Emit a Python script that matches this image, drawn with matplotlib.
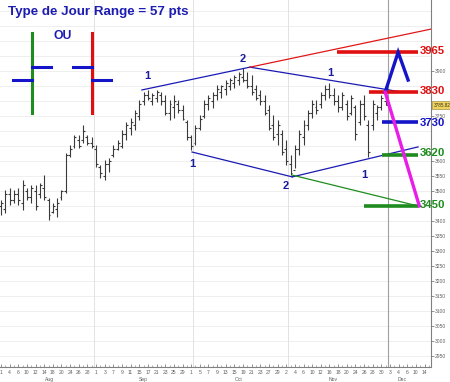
import matplotlib
matplotlib.use("Agg")
import matplotlib.pyplot as plt
import numpy as np

plt.rcParams['font.family'] = ['Liberation Sans', 'DejaVu Sans']

# ---------------- data ----------------
highs = [3470,3503,3510,3503,3510,3537,3510,3520,3520,3527,3553,3477,3460,3477,3503,3627,3653,3687,3687,3720,
         3687,3680,3653,3587,3603,3610,3653,3670,3703,3730,3743,3770,3803,3830,3837,3827,3837,3830,3820,3803,
         3820,3803,3787,3737,3687,3720,3753,3803,3820,3830,3853,3853,3870,3877,3887,3897,3910,3897,3887,3853,
         3837,3820,3787,3753,3737,3703,3670,3620,3653,3703,3737,3770,3803,3803,3830,3853,3860,3843,3820,3830,
         3803,3820,3787,3803,3820,3737,3803,3787,3820,3837]
lows = [3420,3427,3453,3460,3453,3437,3470,3460,3437,3477,3470,3403,3427,3413,3470,3493,3613,3643,3643,3660,
        3653,3643,3580,3543,3537,3563,3613,3637,3643,3670,3687,3703,3737,3787,3803,3787,3797,3787,3753,3737,
        3743,3760,3737,3670,3637,3653,3703,3743,3770,3777,3803,3810,3820,3837,3843,3853,3863,3843,3820,3803,
        3787,3753,3703,3670,3653,3620,3587,3553,3577,3620,3653,3703,3743,3757,3777,3803,3810,3787,3763,3770,
        3737,3753,3670,3720,3737,3613,3703,3737,3770,3787]
opens = [3450,3440,3490,3470,3490,3460,3500,3480,3500,3490,3510,3470,3430,3440,3480,3500,3620,3650,3670,3670,
         3680,3660,3640,3580,3550,3590,3620,3640,3650,3690,3710,3720,3750,3800,3820,3800,3810,3820,3800,3760,
         3780,3790,3770,3730,3680,3660,3710,3750,3790,3800,3820,3830,3840,3850,3860,3870,3880,3870,3850,3840,
         3820,3800,3770,3720,3690,3690,3640,3590,3570,3640,3680,3720,3760,3780,3790,3820,3840,3820,3800,3780,
         3790,3760,3780,3730,3790,3720,3720,3760,3780,3800]
closes = [3460,3490,3470,3490,3470,3520,3480,3510,3450,3520,3480,3420,3450,3460,3500,3620,3640,3680,3650,3700,
          3660,3650,3590,3560,3590,3600,3640,3660,3690,3720,3730,3760,3790,3820,3810,3820,3830,3800,3760,3790,
          3800,3770,3740,3680,3650,3710,3740,3790,3810,3820,3840,3850,3860,3870,3880,3890,3870,3850,3830,3810,
          3800,3760,3710,3680,3720,3630,3600,3560,3640,3690,3720,3760,3790,3770,3820,3840,3820,3800,3780,3820,
          3750,3810,3690,3790,3750,3630,3790,3780,3810,3786]
last_price = "3785.82"

day_labels = (["1","4","6","10","12","14","18","20","24","26","28"] +
              ["1","3","7","9","11","15","17","21","23","25","29"] +
              ["1","5","7","9","13","15","19","21","23","27","29"] +
              ["2","4","6","10","12","16","18","20","24","26","28","30"] +
              ["3","4","6","10","14"])
months = ["Aug", "Sep", "Oct", "Nov", "Dec"]
month_centers = [11.3, 32.9, 54.9, 76.9, 92.8]
month_starts = [21.5, 44.5, 66.5]
current_split = 89.5

price_ticks = [2950,3000,3050,3100,3150,3200,3250,3300,3350,3400,3500,3550,3600,3750,3900]

# trend lines (index, price)
upper_left = ([32.6, 57.6], [3837, 3913])
upper_right = ([57.6, 92.8], [3913, 3830])
red_line = ([57.6, 99.5], [3913, 4040])
lower_left = ([44.2, 67.4], [3630, 3547])
lower_right = ([67.4, 96.5], [3547, 3647])
green_line = ([67.4, 96.5], [3553, 3450])
wave_labels = [("1", 33.8, 3885), ("2", 56.0, 3940), ("1", 76.2, 3895),
               ("1", 44.2, 3590), ("2", 65.8, 3515), ("1", 84.0, 3555)]

levels = [3965, 3830, 3730, 3620, 3450]
level_starts = [77.8, 85.2, 88.2, 88.2, 84.0]
level_colors = ["#e01010", "#e01010", "#1414c8", "#1e8c1e", "#1e8c1e"]
level_end = 96.5

up_path = ([88.9, 91.9, 94.2], [3830, 3963, 3870])
down_path = ([88.9, 96.8], [3830, 3450])

# ---------------- figure ----------------
W, H = 450, 382
fig = plt.figure(figsize=(W/100, H/100), dpi=100)
ax = fig.add_axes([0, 15/H, 431/W, 367/H])
ax.set_xlim(-0.23, 99.5)
ax.set_ylim(2913, 4137)

idx = np.arange(len(highs))
# grid
for p in range(2950, 4150, 50):
    ax.axhline(p, color="#ececec", lw=0.6, zorder=0)
for m in month_starts:
    ax.axvline(m, color="#e2e2e2", lw=0.7, zorder=0)
ax.axvline(current_split, color="#a0a0a0", lw=0.8, zorder=0)

bar_c = "#3a3a3a"
ax.vlines(idx, lows, highs, color=bar_c, lw=0.8, zorder=2)
ax.hlines(opens, idx - 0.45, idx, color=bar_c, lw=0.8, zorder=2)
ax.hlines(closes, idx, idx + 0.45, color=bar_c, lw=0.8, zorder=2)

blue = "#1a1ab4"
for ln in (upper_left, upper_right, lower_left, lower_right):
    ax.plot(ln[0], ln[1], color=blue, lw=0.9, zorder=3)
ax.plot(red_line[0], red_line[1], color="#e01818", lw=0.9, zorder=3)
ax.plot(green_line[0], green_line[1], color="#1e8c1e", lw=0.9, zorder=3)

for t, xi, yp in wave_labels:
    ax.text(xi, yp, t, color="#1a1a9c", fontsize=8, fontweight="bold",
            ha="center", va="center", zorder=5)

label_dy = {3730: -1.2, 3620: 1.0}
for lv, xs, c in zip(levels, level_starts, level_colors):
    ax.plot([xs, level_end], [lv, lv], color=c, lw=2.6, zorder=4, solid_capstyle="butt")
    ax.annotate(str(lv), (level_end + 0.35, lv), xytext=(0, 0.4 + label_dy.get(lv, 0)),
                textcoords="offset points", color=c, fontsize=8.2, fontweight="bold",
                ha="left", va="center", zorder=6, annotation_clip=False)

ax.plot(up_path[0], up_path[1], color="#1414c8", lw=2.4, zorder=5, solid_joinstyle="miter")
ax.plot(down_path[0], down_path[1], color="#e81ee8", lw=2.4, zorder=5)

# axes styling
for s in ("top", "left"):
    ax.spines[s].set_visible(False)
ax.spines["right"].set_color("#808080")
ax.spines["bottom"].set_color("#808080")
ax.spines["right"].set_linewidth(0.8)
ax.spines["bottom"].set_linewidth(0.8)
ax.yaxis.tick_right()
ax.set_yticks(price_ticks)
ax.set_yticklabels([str(p) for p in price_ticks])
ax.tick_params(axis="y", which="major", labelsize=3.6, labelcolor="#606060",
               color="#808080", length=2, width=0.6, pad=1)
ax.set_xticks(np.arange(0, 2*len(day_labels), 2)[:len(day_labels)])
ax.set_xticklabels(day_labels)
ax.set_xticks(np.arange(0, 100), minor=True)
ax.tick_params(axis="x", which="major", labelsize=3.6, labelcolor="#606060",
               color="#808080", length=2, width=0.6, pad=2, direction="in")
ax.tick_params(axis="x", which="minor", color="#909090", length=1.5, width=0.5, direction="in")
for name, mc in zip(months, month_centers):
    ax.text(mc, -10/367, name, transform=ax.get_xaxis_transform(), fontsize=3.6,
            color="#606060", ha="center", va="top")

# last price box
ax.text(99.5 + 0.55, float(last_price), last_price, fontsize=3.3, color="#303030",
        ha="left", va="center", clip_on=False, zorder=7,
        bbox=dict(boxstyle="square,pad=0.35", fc="#f2d35a", ec="#8a7a30", lw=0.4))

# header / legend drawing (figure pixel coords)
def fx(x): return x / W
def fy(y): return 1 - y / H

fig.text(fx(8), fy(12), "Type de Jour Range = 57 pts", color="#1c1cb0", fontsize=9.6,
         fontweight="bold", ha="left", va="center")
fig.text(fx(53), fy(36), "OU", color="#1c1cb0", fontsize=8.8, fontweight="bold",
         ha="left", va="center")

def fline(xs, ys, c, lw):
    fig.add_artist(plt.Line2D([fx(x) for x in xs], [fy(y) for y in ys], color=c, lw=lw))

fline([32, 32], [33, 113], "#1e8c1e", 2.2)
fline([13, 32], [80, 80], "#1414c8", 2.2)
fline([32, 51], [67, 67], "#1414c8", 2.2)
fline([92, 92], [33, 113], "#e01010", 2.2)
fline([73, 92], [67, 67], "#1414c8", 2.2)
fline([92, 111], [80, 80], "#1414c8", 2.2)

fig.savefig("out.png", dpi=100)
